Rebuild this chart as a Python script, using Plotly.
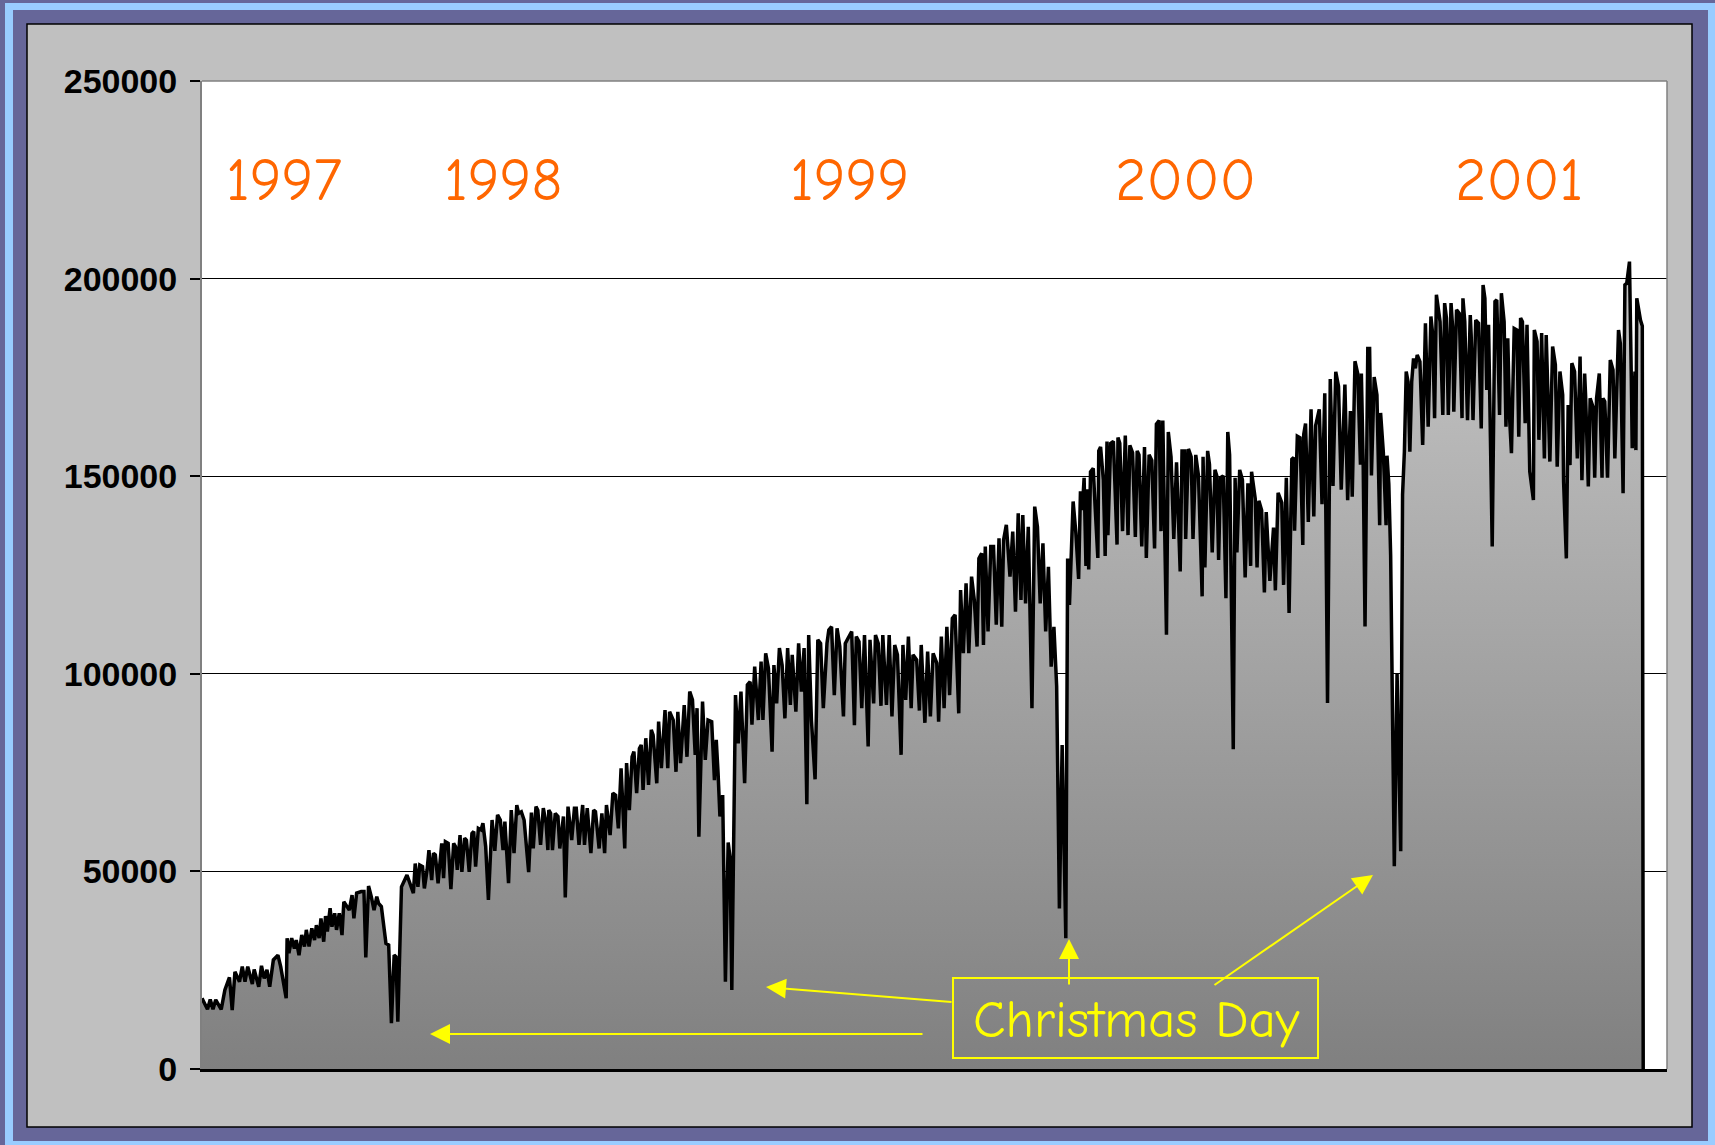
import plotly.graph_objects as go

# ---------------- data (day offset from 1997-06-01, daily hits) ----------------
day_1 = [0, 6, 9, 12, 15, 21, 25, 30, 33, 36, 41, 44, 47, 50, 55, 57, 62, 65, 68, 71,
         74, 78, 83, 86, 92, 93, 95, 98, 101, 103, 106, 109, 112, 114, 117, 120, 123, 125, 128, 130,
         133, 135, 137, 140, 142, 145, 147, 150, 153, 155, 161, 164, 166, 169, 174, 177, 179, 182, 185, 188,
         191, 193, 196, 198, 201, 204, 207, 210, 212, 214, 218, 224, 226, 231]
val_1 = [17900, 15100, 17600, 15100, 17500, 15100, 20000, 23200, 14900, 24600,
         22100, 25900, 22100, 25900, 21500, 25200, 20800, 26100, 22900, 25100,
         20800, 27600, 28800, 25900, 17900, 33100, 29300, 33100, 30500, 32600,
         28800, 33900, 31000, 35200, 31000, 35600, 32600, 36400, 33100, 38100,
         32200, 38700, 34800, 40700, 36000, 39400, 35200, 39400, 33900, 42300,
         40200, 44000, 38100, 44500, 44900, 44900, 28200, 46300, 43600, 40200,
         43600, 41900, 41100, 37700, 31800, 31400, 11600, 28800, 28400, 12000,
         46100, 49100, 47800, 44500]

day_2 = [233, 236, 238, 241, 243, 246, 248, 251, 253, 255, 258, 260, 262, 264, 266, 269, 272, 275, 277, 279,
         282, 284, 287, 289, 292, 295, 297, 299, 302, 305, 307, 310, 313, 317, 320, 323, 326, 329, 331, 335,
         338, 341, 344, 346, 349, 352, 357, 360, 362, 365, 367, 370, 373, 376, 378, 379, 381, 383, 386, 389,
         391, 395, 397, 400, 404, 407, 409, 412, 416, 418, 421, 425, 428, 430, 434, 437, 440, 442, 446, 449,
         452, 455, 458, 462, 464, 467, 470, 472, 475, 478, 480]
val_2 = [52000, 46100, 51600, 51200, 45700, 50400, 55400, 47800, 54600, 54200,
         47000, 52900, 57100, 48300, 57500, 57100, 45500, 57100, 56300, 50400,
         59200, 49900, 58400, 57900, 49900, 59600, 60100, 51200, 60900, 60500,
         62200, 56300, 42800, 63000, 55200, 64300, 63000, 55400, 62600, 47000,
         65500, 54600, 66800, 64700, 65100, 63000, 49800, 64900, 55800, 66400,
         65500, 56700, 66000, 62200, 55400, 65500, 64700, 55400, 64700, 63900,
         55800, 63900, 43400, 66400, 57900, 66000, 66000, 56700, 66800, 56700,
         66000, 54600, 65500, 65100, 55800, 64700, 54600, 66800, 59200, 69800,
         69300, 60900, 76100, 55800, 77400, 65500, 79000, 80300, 69800, 81100,
         82000]

day_3 = [482, 485, 488, 491, 493, 497, 499, 502, 506, 509, 511, 515, 518, 520, 523, 527, 530, 533, 536, 539,
         541, 543, 547, 550, 553, 557, 560, 562, 564, 566, 569, 572, 575, 577, 579, 583, 586, 589, 593, 596,
         599, 601, 604, 608, 611, 613, 616, 619, 623, 625, 628, 631, 634, 637, 640, 643, 645, 649, 652, 655,
         658, 661, 663, 666, 670, 673, 676, 679, 683, 685, 688, 691, 694, 697, 701, 703, 706, 710, 713]
val_3 = [70600, 83700, 71900, 85800, 84500, 72300, 87900, 76100, 90800, 76100,
         90400, 88300, 75200, 90400, 77400, 92100, 79000, 95500, 93400, 79500,
         91300, 58800, 93000, 78200, 88300, 87900, 73100, 83300, 74800, 63900,
         69300, 22100, 57300, 53700, 20000, 94600, 82400, 95500, 72300, 97200,
         98000, 87100, 101800, 88300, 103100, 88300, 105200, 101400, 80300, 102200,
         92500, 106500, 102200, 88700, 106500, 92100, 104800, 90400, 107700, 95500,
         106500, 67000, 109800, 88300, 73300, 108600, 107700, 91300, 107700, 111100,
         111900, 94600, 111500, 106900, 89200, 107700, 109000, 110700, 87000]

day_4 = [715, 718, 721, 724, 728, 730, 734, 736, 739, 742, 744, 748, 751, 754, 757, 760, 764, 766, 769, 772,
         775, 777, 781, 784, 786, 790, 793, 796, 799, 803, 805, 808, 811, 814, 817, 820, 823, 827, 829, 832,
         835, 838, 841, 844, 847, 849, 852, 854, 856, 859, 862, 865, 868, 871, 874, 876, 879, 883, 886, 889,
         892, 895, 897, 900, 903, 907, 910, 913, 916, 919, 922, 925, 928, 931, 934, 937, 940, 944, 945, 946,
         948, 952, 955, 958]
val_4 = [109400, 108100, 91300, 109800, 81600, 108600, 92500, 109800, 107700, 91900,
         109800, 92100, 109800, 89200, 107300, 104800, 79500, 107300, 93400, 109400,
         91300, 104800, 103500, 90700, 107300, 87600, 105600, 89200, 105200, 102700,
         87900, 109400, 91300, 111900, 94600, 114000, 114900, 90000, 121200, 105200,
         122900, 105200, 124600, 118700, 106900, 129200, 130500, 107300, 132200, 110700,
         132200, 132200, 112400, 134300, 111900, 133900, 137700, 124600, 136000, 115700,
         140600, 118700, 140200, 117800, 137200, 91300, 142300, 137200, 117800, 133000,
         110700, 127100, 101800, 111900, 96800, 40600, 82000, 33100, 110200, 129200,
         117400, 143600, 135600, 124000]

day_5 = [960, 962, 964, 966, 968, 969, 971, 974, 976, 979, 980, 982, 985, 987, 989, 990, 993, 996, 1000, 1001,
         1003, 1006, 1009, 1012, 1014, 1017, 1020, 1022, 1024, 1027, 1030, 1032, 1035, 1038, 1041, 1043, 1046,
         1048, 1050, 1054, 1056, 1059, 1062, 1065, 1069, 1071, 1074, 1075, 1078, 1081, 1083, 1086, 1089, 1093,
         1094, 1096, 1099, 1101, 1104, 1107, 1109, 1111, 1113, 1116, 1119, 1121, 1123, 1127, 1129, 1131, 1134,
         1137, 1140, 1143, 1146, 1147, 1151, 1153, 1155, 1158, 1161, 1163, 1167, 1171, 1173, 1176, 1180, 1182,
         1185, 1188]
val_5 = [146200, 141400, 149600, 127300, 146700, 126400, 151100, 152000, 142400, 129300,
         156400, 157400, 149100, 129800, 158800, 135100, 158300, 158800, 132700, 159800,
         158300, 136100, 160300, 135100, 157800, 155900, 134600, 156400, 155400, 132200,
         157400, 129300, 155400, 154000, 131700, 163200, 164100, 136100, 164100, 109900,
         161200, 154900, 134100, 153500, 125900, 156400, 156400, 134100, 156900, 154900,
         134100, 155400, 150100, 119600, 154900, 126900, 156400, 153000, 130700, 151600,
         150100, 128800, 149600, 150100, 119100, 161200, 155400, 80900, 149600, 130700,
         151600, 149100, 124400, 148200, 127300, 151100, 144300, 126900, 143800, 141400,
         120600, 140900, 123500, 137000, 121100, 145800, 143300, 122500, 149600, 115400]

day_6 = [1191, 1193, 1194, 1197, 1200, 1203, 1204, 1206, 1209, 1212, 1215, 1217, 1221, 1224, 1227, 1230,
         1233, 1236, 1239, 1242, 1245, 1247, 1249, 1252, 1255, 1257, 1260, 1263, 1266, 1267, 1269, 1271,
         1274, 1276, 1278, 1281, 1284, 1287, 1288, 1291, 1294, 1295, 1297, 1299, 1303, 1306, 1310, 1312, 1314]
val_6 = [154300, 154700, 136200, 160100, 159700, 132600, 160600, 163300, 138400, 166900,
         139800, 162800, 166900, 142900, 171000, 92600, 174600, 147500, 176400, 172800,
         146600, 161500, 173200, 143900, 166500, 144800, 179100, 176000, 152900, 176000,
         152900, 112000, 182300, 182300, 150200, 175100, 170600, 137600, 166000, 156100,
         137600, 155200, 148000, 129900, 51300, 100100, 55100, 145300, 156200]

day_7 = [1316, 1318, 1320, 1322, 1324, 1326, 1328, 1331, 1334, 1336, 1337, 1340, 1343, 1345, 1347, 1349,
         1353, 1356, 1358, 1360, 1362, 1365, 1367, 1368, 1371, 1374, 1377, 1378, 1380, 1383, 1386, 1387,
         1389, 1392, 1395, 1398, 1400, 1402, 1404, 1406, 1410, 1413, 1415, 1418, 1420, 1423, 1425, 1427,
         1429, 1431, 1434, 1437, 1439, 1441]
val_7 = [176500, 173900, 156200, 173900, 179800, 177300, 180700, 179000, 157900, 184900,
         188700, 162500, 190400, 185700, 164700, 195900, 189100, 165500, 193800, 190000,
         165500, 193800, 186600, 166300, 192100, 191200, 164700, 195000, 189100, 164200,
         190800, 185700, 164200, 189500, 188700, 162100, 198400, 195000, 171800, 188300,
         132200, 194200, 194600, 165500, 196300, 189100, 162500, 184900, 164700, 155800,
         187400, 187000, 160000, 190000]

day_8 = [1443, 1446, 1448, 1451, 1455, 1456, 1459, 1461, 1464, 1467, 1469, 1473, 1476, 1479, 1481, 1484,
         1487, 1488, 1491, 1493, 1495, 1497, 1500, 1503, 1506, 1508, 1511, 1512, 1515, 1517, 1520, 1522,
         1524, 1527, 1530, 1531, 1533, 1536, 1539, 1542, 1544, 1548, 1550, 1553, 1555, 1557, 1560, 1562,
         1563, 1566, 1567, 1568, 1570, 1572, 1574, 1575]
val_8 = [189100, 163400, 188300, 151200, 144000, 187000, 184100, 159200, 186200, 154500,
         185700, 153700, 182800, 178200, 152400, 176500, 170600, 148600, 129200, 168000,
         152800, 178600, 176500, 154500, 180300, 149000, 176000, 170600, 147400, 169700,
         167600, 149600, 169700, 176000, 149600, 169700, 168900, 149600, 179400, 176900,
         154500, 187000, 183600, 145700, 198400, 198800, 204300, 174800, 157100, 176500,
         156600, 195000, 191600, 189500, 188000, 0]

year_labels = ["1997", "1998", "1999", "2000", "2001"]
y_ticks = [0, 50000, 100000, 150000, 200000, 250000]
note_text = "Christmas Day"

segments = [(day_1, val_1), (day_2, val_2), (day_3, val_3), (day_4, val_4),
            (day_5, val_5), (day_6, val_6), (day_7, val_7), (day_8, val_8)]
days, hits = [], []
for d, v in segments:
    assert len(d) == len(v), (d[0], len(d), len(v))
    days += d
    hits += v

# ---------------- layout helpers (pixel -> paper) ----------------
W, H = 1715, 1145
L, R, T, B = 202, 1667, 81, 1069


def px(x):
    return (x - L) / (R - L)


def py(y):
    return (B - y) / (B - T)


def rect(x0, y0, x1, y1, fill=None, line=None, lw=0, layer="below"):
    return dict(type="rect", xref="paper", yref="paper",
                x0=px(x0), x1=px(x1), y0=py(y1), y1=py(y0),
                fillcolor=fill if fill else "rgba(0,0,0,0)",
                line=dict(color=line if line else "rgba(0,0,0,0)", width=lw),
                layer=layer)


def seg(x0, y0, x1, y1, color, lw, layer="above"):
    return dict(type="line", xref="paper", yref="paper",
                x0=px(x0), x1=px(x1), y0=py(y0), y1=py(y1),
                line=dict(color=color, width=lw), layer=layer)


PURPLE = "#666699"
LBLUE = "#99CCFF"
GRAY = "#C0C0C0"
YEL = "#FFFF00"
ORANGE = "#FF6600"

fig = go.Figure()
fig.add_trace(go.Scatter(
    x=days, y=hits, mode="lines",
    line=dict(color="black", width=3.5),
    fill="tozeroy",
    fillgradient=dict(type="vertical",
                      colorscale=[[0, "#808080"], [1, "#d6d6d6"]],
                      start=0, stop=250000),
    hoverinfo="skip", showlegend=False,
))

shapes = [
    rect(0, 0, W, H, fill=PURPLE),
    rect(5, 3, W, H, fill=LBLUE),
    rect(13, 10, 1708, 1141, fill=PURPLE),
    rect(27, 24, 1692, 1127, fill=GRAY, line="black", lw=1.5),
    rect(L, T, R, B, fill="white"),
    seg(L, T, R, T, "#808080", 1.5),
    seg(R, T, R, B, "#808080", 1.5),
    rect(953, 978, 1318, 1058, line=YEL, lw=2, layer="above"),
]

year_font = dict(family="Comic Sans MS, Comic Neue, Open Sans", size=60, color=ORANGE)
year_x = [284, 503, 849, 1185, 1519]
annotations = []
for lab, xp in zip(year_labels, year_x):
    annotations.append(dict(xref="paper", yref="paper", x=px(xp), y=py(180),
                            text=lab, showarrow=False, font=year_font,
                            xanchor="center", yanchor="middle"))

annotations.append(dict(xref="paper", yref="paper", x=px(1136), y=py(1019),
                        text=note_text, showarrow=False,
                        font=dict(family="Comic Sans MS, Comic Neue, Open Sans", size=53, color=YEL),
                        xanchor="center", yanchor="middle"))

# arrows: (head_x, head_y, tail_x, tail_y) in pixels
arrows = [(430, 1034, 924, 1034), (766, 987, 953, 1002), (1069, 939, 1069, 986), (1373, 875, 1213, 986)]
for hx, hy, tx, ty in arrows:
    annotations.append(dict(xref="paper", yref="paper", x=px(hx), y=py(hy),
                            ax=tx - hx, ay=ty - hy, text="", showarrow=True,
                            arrowhead=2, arrowsize=2, arrowwidth=2, arrowcolor=YEL,
                            standoff=0, startstandoff=0))

fig.update_layout(
    width=W, height=H, autosize=False,
    margin=dict(l=L, r=W - R, t=T, b=H - B, pad=0),
    paper_bgcolor=LBLUE, plot_bgcolor="rgba(0,0,0,0)",
    shapes=shapes, annotations=annotations,
    xaxis=dict(range=[0, 1601], showgrid=False, zeroline=False, showticklabels=False,
               ticks="", showline=True, linecolor="black", linewidth=2.5, fixedrange=True),
    yaxis=dict(range=[0, 250000], tickvals=y_ticks, tickformat="d",
               showgrid=True, gridcolor="black", gridwidth=1, zeroline=False,
               showline=True, linecolor="#808080", linewidth=2,
               ticks="outside", ticklen=10, tickwidth=1.5, tickcolor="black",
               ticklabelstandoff=6,
               tickfont=dict(family="Liberation Sans, Arial", size=34, color="black", weight="bold"),
               fixedrange=True),
)

fig.write_html("out.html")
